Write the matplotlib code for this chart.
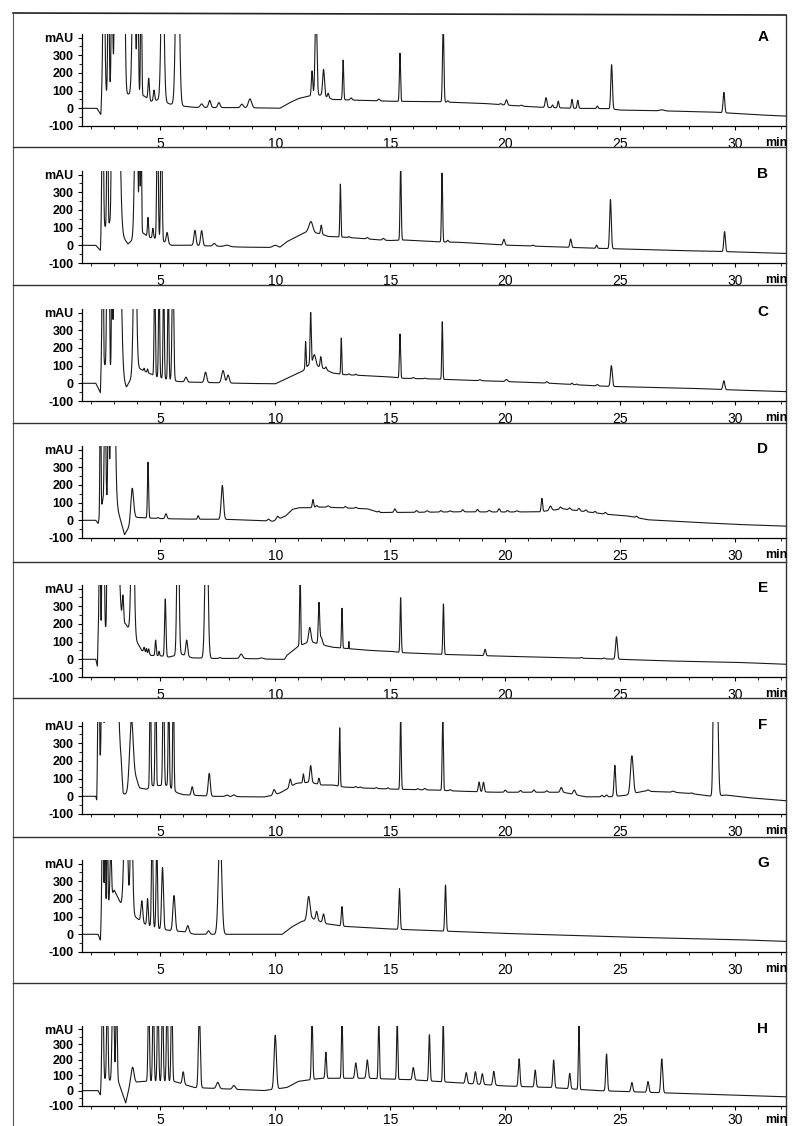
import numpy as np
import matplotlib
matplotlib.use("Agg")
import matplotlib.pyplot as plt
from matplotlib.lines import Line2D
from matplotlib.ticker import MultipleLocator, FixedLocator

plt.rcParams['font.family'] = ['Liberation Sans', 'DejaVu Sans']

# panel letters and x ticks
panel_names = ['A', 'B', 'C', 'D', 'E', 'F', 'G', 'H']
x_ticks = [5, 10, 15, 20, 25, 30]
y_ticks = [-100, 0, 100, 200, 300, 400]
y_labels = ['-100', '0', '100', '200', '300', 'mAU']

# baseline knots (min, mAU) and peaks (retention time, height above baseline, width)
a_base_t = [1.6, 2.25, 2.42, 2.46, 3.0, 3.6, 4.3, 4.6, 5.0, 5.4, 6.0, 6.5, 9.0, 10.2, 10.6, 11.0, 11.5, 12.0, 12.5, 15.0, 17.0, 19.0, 20.5, 21.5, 23.0, 24.5, 25.0, 27.0, 29.0, 31.0, 32.2]
a_base_y = [0, 0, -38, 60, 100, 80, 70, 40, 50, 25, 12, 5, 3, 0, 30, 55, 70, 75, 50, 40, 37, 28, 14, 6, 0, -2, -10, -15, -21, -37, -44]
a_peaks = [(2.55, 900, 0.04), (2.75, 700, 0.03), (2.9, 700, 0.03), (3.05, 900, 0.03), (3.2, 2000, 0.1),
           (3.4, 1500, 0.05), (3.85, 900, 0.06), (4.02, 700, 0.03), (4.17, 700, 0.025), (4.5, 120, 0.03),
           (4.73, 60, 0.03), (5.1, 900, 0.06), (5.75, 1200, 0.07), (6.8, 20, 0.06), (7.15, 40, 0.05),
           (7.55, 28, 0.05), (8.55, 20, 0.06), (8.9, 50, 0.07), (11.6, 140, 0.03), (11.77, 500, 0.04),
           (12.1, 150, 0.04), (12.3, 25, 0.03), (12.95, 225, 0.025), (13.3, 12, 0.04), (14.5, 10, 0.04),
           (15.42, 272, 0.025), (17.3, 450, 0.03), (17.5, 8, 0.03), (19.8, 6, 0.04), (20.05, 30, 0.04),
           (20.7, 5, 0.05), (21.77, 55, 0.04), (22.05, 15, 0.03), (22.3, 38, 0.03), (22.9, 50, 0.03),
           (23.15, 46, 0.03), (24.0, 14, 0.03), (24.62, 250, 0.035), (26.8, 6, 0.1), (29.5, 115, 0.035)]

b_base_t = [1.6, 2.2, 2.4, 2.44, 2.8, 3.3, 3.6, 4.2, 4.5, 4.9, 5.5, 6.4, 8.5, 9.5, 10.2, 10.5, 10.85, 11.1, 11.4, 12.0, 12.3, 13.0, 14.5, 15.0, 15.6, 17.0, 18.0, 20.0, 22.0, 24.0, 25.5, 28.0, 30.0, 32.2]
b_base_y = [0, 0, -30, 100, 110, 60, 8, 75, 45, 37, 0, 0, -10, -12, -12, 20, 44, 60, 78, 64, 50, 46, 31, 27, 30, 20, 17, 1, -8, -17, -22, -31, -37, -46]
b_peaks = [(2.5, 900, 0.03), (2.7, 800, 0.025), (2.9, 800, 0.025), (3.1, 2000, 0.1), (3.95, 900, 0.06),
           (4.1, 600, 0.02), (4.17, 600, 0.02), (4.47, 110, 0.025), (4.68, 55, 0.025), (4.88, 800, 0.03),
           (5.05, 800, 0.03), (5.3, 60, 0.04), (6.51, 85, 0.045), (6.8, 85, 0.045), (7.35, 15, 0.06),
           (7.9, 8, 0.1), (10.0, 12, 0.1), (11.55, 60, 0.08), (12.0, 50, 0.03), (12.83, 300, 0.022),
           (13.2, 5, 0.03), (14.0, 8, 0.04), (14.7, 10, 0.04), (15.45, 450, 0.025), (17.25, 390, 0.025),
           (17.5, 10, 0.03), (19.94, 32, 0.04), (21.2, 5, 0.05), (22.84, 47, 0.035), (23.97, 18, 0.03),
           (24.57, 278, 0.035), (29.53, 113, 0.035)]

c_base_t = [1.6, 2.2, 2.4, 2.44, 2.85, 3.3, 3.53, 4.0, 4.3, 4.85, 5.4, 5.8, 6.2, 8.5, 10.0, 10.35, 10.8, 11.2, 11.5, 12.0, 12.5, 13.0, 14.0, 15.0, 15.6, 17.0, 18.0, 20.0, 22.0, 24.0, 25.0, 28.0, 30.0, 32.2]
c_base_y = [0, 0, -53, 120, 75, 40, -22, 90, 70, 37, 20, 10, 7, 0, -3, 18, 46, 70, 110, 90, 58, 49, 43, 36, 28, 24, 19, 10, 0, -15, -19, -28, -38, -47]
c_peaks = [(2.5, 900, 0.025), (2.7, 800, 0.03), (2.78, 600, 0.02), (2.9, 600, 0.02), (3.15, 2000, 0.1),
           (3.9, 900, 0.06), (4.3, 15, 0.02), (4.45, 20, 0.02), (4.76, 600, 0.025), (4.95, 600, 0.025),
           (5.15, 600, 0.025), (5.35, 600, 0.025), (5.55, 700, 0.035), (6.12, 27, 0.05), (6.97, 58, 0.05),
           (7.73, 70, 0.06), (7.95, 45, 0.05), (11.32, 150, 0.02), (11.54, 290, 0.025), (11.7, 60, 0.06),
           (11.98, 60, 0.03), (12.2, 15, 0.03), (12.87, 205, 0.02), (13.2, 6, 0.03), (13.5, 6, 0.03),
           (15.42, 248, 0.025), (16.0, 6, 0.04), (16.5, 4, 0.04), (17.26, 325, 0.022), (18.9, 5, 0.05),
           (20.05, 12, 0.05), (21.8, 8, 0.04), (22.9, 8, 0.03), (23.1, 4, 0.03), (24.0, 8, 0.04),
           (24.61, 117, 0.04), (29.5, 50, 0.04)]

d_base_t = [1.6, 2.2, 2.3, 2.38, 2.5, 2.9, 3.15, 3.45, 3.9, 5.0, 6.0, 8.0, 9.9, 10.2, 10.46, 10.75, 11.03, 11.46, 12.0, 13.0, 14.0, 14.5, 16.0, 18.0, 20.0, 21.5, 22.5, 24.4, 25.3, 26.2, 28.0, 30.0, 32.2]
d_base_y = [0, 0, -18, 30, 110, 110, 60, -81, 17, 10, 7, 5, -5, 10, 26, 62, 71, 71, 75, 70, 65, 44, 45, 48, 47, 48, 65, 34, 25, 3, -10, -23, -33]
d_peaks = [(2.4, 900, 0.02), (2.6, 700, 0.03), (2.75, 700, 0.025), (2.95, 1500, 0.07), (3.78, 190, 0.06),
           (4.47, 316, 0.025), (4.9, 5, 0.03), (5.25, 28, 0.04), (6.65, 20, 0.03), (7.7, 192, 0.05),
           (9.71, 10, 0.05), (10.1, 18, 0.05), (11.64, 45, 0.03), (11.8, 10, 0.04), (12.3, 8, 0.05),
           (13.05, 8, 0.04), (13.5, 6, 0.04), (14.5, 8, 0.03), (15.2, 20, 0.04), (16.14, 10, 0.04),
           (16.6, 8, 0.05), (17.2, 8, 0.04), (17.6, 6, 0.05), (18.15, 12, 0.04), (18.79, 14, 0.04),
           (19.3, 8, 0.05), (19.73, 18, 0.04), (20.1, 8, 0.04), (20.5, 6, 0.05), (21.59, 75, 0.03),
           (21.96, 25, 0.05), (22.4, 12, 0.04), (22.8, 10, 0.04), (23.2, 14, 0.04), (23.5, 10, 0.04),
           (23.9, 8, 0.04), (24.35, 10, 0.04), (25.7, 8, 0.04)]

e_base_t = [1.6, 2.2, 2.27, 2.3, 2.6, 3.3, 3.5, 4.05, 4.2, 4.6, 5.0, 5.4, 5.9, 6.4, 7.3, 8.5, 10.0, 10.4, 10.5, 10.8, 11.0, 11.5, 12.2, 12.5, 13.2, 14.0, 15.0, 15.6, 17.0, 18.0, 20.0, 22.0, 25.0, 27.0, 30.0, 32.2]
e_base_y = [0, 0, -40, 150, 160, 200, 200, 84, 50, 22, 20, 13, 30, 8, 5, 5, 0, 0, 22, 52, 74, 100, 77, 68, 60, 51, 45, 37, 29, 25, 17, 11, 0, -9, -17, -28]
e_peaks = [(2.37, 700, 0.025), (2.48, 600, 0.02), (2.55, 700, 0.025), (2.7, 700, 0.02), (2.78, 700, 0.02),
           (3.0, 2000, 0.12), (3.38, 150, 0.03), (3.8, 900, 0.06), (4.3, 25, 0.025), (4.4, 25, 0.02),
           (4.5, 30, 0.025), (4.8, 88, 0.025), (4.95, 25, 0.02), (5.22, 325, 0.03), (5.77, 900, 0.045),
           (6.15, 90, 0.04), (7.01, 900, 0.06), (7.6, 5, 0.04), (8.52, 25, 0.06), (9.4, 6, 0.08),
           (11.08, 430, 0.022), (11.5, 80, 0.05), (11.9, 230, 0.03), (12.0, 40, 0.05), (12.9, 225, 0.022),
           (13.2, 40, 0.01), (15.45, 310, 0.025), (17.31, 286, 0.025), (19.12, 36, 0.035), (23.3, 4, 0.04),
           (24.3, 5, 0.04), (24.83, 127, 0.04)]

f_base_t = [1.6, 2.2, 2.24, 2.28, 2.6, 3.3, 3.39, 4.2, 4.4, 4.66, 5.3, 5.75, 6.0, 7.3, 9.5, 9.88, 10.2, 10.5, 10.9, 11.5, 12.0, 12.5, 13.0, 14.0, 15.0, 15.6, 17.0, 18.0, 19.5, 22.5, 23.5, 24.5, 25.2, 26.0, 27.3, 28.1, 29.0, 29.6, 30.5, 32.2]
f_base_y = [0, 0, -25, 200, 200, 150, 7, 45, 40, 60, 62, 19, 9, 0, -4, 5, 19, 40, 73, 80, 64, 64, 52, 46, 41, 39, 35, 29, 23, 23, -3, -3, 5, 29, 23, 15, 0, 7, -7, -25]
f_peaks = [(2.32, 800, 0.025), (2.48, 900, 0.03), (2.9, 2500, 0.15), (3.75, 410, 0.08), (3.95, 60, 0.08),
           (4.57, 700, 0.025), (4.8, 700, 0.025), (5.14, 700, 0.03), (5.37, 600, 0.025), (5.57, 700, 0.025),
           (6.39, 48, 0.04), (7.13, 128, 0.045), (7.9, 8, 0.06), (8.2, 10, 0.06), (9.95, 30, 0.05),
           (10.65, 45, 0.04), (11.22, 50, 0.025), (11.54, 95, 0.04), (11.9, 35, 0.03), (12.8, 330, 0.022),
           (13.5, 6, 0.04), (13.7, 5, 0.04), (14.4, 5, 0.04), (14.9, 6, 0.04), (15.45, 430, 0.025),
           (16.2, 6, 0.04), (16.5, 8, 0.04), (17.28, 430, 0.025), (17.6, 6, 0.04), (18.86, 55, 0.035),
           (19.05, 55, 0.035), (20.0, 12, 0.04), (20.66, 10, 0.04), (21.24, 13, 0.04), (21.8, 8, 0.04),
           (22.43, 27, 0.045), (23.0, 25, 0.05), (24.2, 8, 0.04), (24.4, 10, 0.04), (24.76, 175, 0.035),
           (25.5, 215, 0.06), (26.2, 8, 0.06), (27.3, 6, 0.06), (28.1, 4, 0.05), (29.07, 800, 0.04),
           (29.2, 700, 0.05)]

g_base_t = [1.6, 2.3, 2.4, 2.45, 3.0, 3.3, 3.9, 4.3, 4.7, 5.0, 5.5, 6.0, 6.5, 7.0, 9.0, 10.3, 10.7, 11.1, 11.6, 12.2, 13.0, 15.0, 17.0, 20.0, 25.0, 30.0, 32.2]
g_base_y = [0, 0, -35, 100, 250, 170, 100, 60, 40, 30, 20, 15, 0, 0, 0, 0, 40, 70, 90, 60, 45, 30, 20, 5, -15, -30, -40]
g_peaks = [(2.5, 700, 0.03), (2.6, 500, 0.02), (2.7, 600, 0.02), (2.85, 300, 0.03), (3.5, 700, 0.07),
           (3.75, 600, 0.05), (4.2, 120, 0.04), (4.45, 150, 0.03), (4.65, 600, 0.03), (4.85, 500, 0.03),
           (5.1, 350, 0.04), (5.6, 200, 0.05), (6.2, 40, 0.05), (7.1, 20, 0.05), (7.6, 600, 0.07),
           (11.45, 130, 0.06), (11.8, 50, 0.04), (12.1, 50, 0.04), (12.9, 110, 0.03), (15.4, 230, 0.03),
           (17.4, 260, 0.03)]

h_base_t = [1.6, 2.3, 2.4, 2.45, 3.2, 3.5, 3.7, 4.2, 5.6, 6.5, 8.0, 9.5, 10.5, 11.0, 12.0, 14.0, 16.0, 18.0, 20.0, 22.0, 24.0, 26.0, 28.0, 30.0, 32.2]
h_base_y = [0, 0, -30, 80, 50, -80, 50, 60, 60, 20, 10, 0, 20, 60, 80, 80, 70, 50, 30, 20, 0, -10, -20, -30, -40]
h_peaks = [(2.5, 700, 0.03), (2.7, 600, 0.03), (2.95, 700, 0.04), (3.1, 600, 0.03), (3.8, 100, 0.06),
           (4.5, 600, 0.03), (4.7, 600, 0.03), (4.9, 600, 0.03), (5.1, 600, 0.03), (5.3, 600, 0.03),
           (5.5, 600, 0.03), (6.0, 80, 0.04), (6.7, 500, 0.04), (7.5, 40, 0.06), (8.2, 25, 0.06),
           (10.0, 350, 0.05), (11.6, 400, 0.03), (12.2, 170, 0.03), (12.9, 400, 0.025), (13.5, 100, 0.04),
           (14.0, 120, 0.04), (14.5, 400, 0.025), (15.3, 400, 0.025), (16.0, 80, 0.04), (16.7, 300, 0.03),
           (17.3, 400, 0.025), (18.3, 70, 0.04), (18.7, 80, 0.04), (19.0, 70, 0.04), (19.5, 90, 0.04),
           (20.6, 180, 0.035), (21.3, 110, 0.035), (22.1, 180, 0.035), (22.8, 100, 0.035), (23.2, 420, 0.025),
           (24.4, 240, 0.035), (25.5, 60, 0.04), (26.2, 70, 0.04), (26.8, 220, 0.04)]

base_t = [a_base_t, b_base_t, c_base_t, d_base_t, e_base_t, f_base_t, g_base_t, h_base_t]
base_y = [a_base_y, b_base_y, c_base_y, d_base_y, e_base_y, f_base_y, g_base_y, h_base_y]
peaks = [a_peaks, b_peaks, c_peaks, d_peaks, e_peaks, f_peaks, g_peaks, h_peaks]

# pixel layout of the scanned page (last panel is squashed a little in the scan)
W, H = 796, 1126
ax_left, ax_right = 82, 786
ax_bottoms = [126, 263, 401, 538, 677, 814, 952, 1106]
ax_heights = [92, 92, 92, 92, 92, 92, 92, 80]
seps = [147, 285, 423, 562, 698, 837, 983]

fig = plt.figure(figsize=(W / 100, H / 100), dpi=100)
fig.patch.set_facecolor('white')

t = np.arange(1.6, 32.2, 0.004)

for i, name in enumerate(panel_names):
    bot = ax_bottoms[i]
    ax = fig.add_axes([ax_left / W, 1 - bot / H, (ax_right - ax_left) / W, ax_heights[i] / H])
    y = np.interp(t, base_t[i], base_y[i])
    for pt, ph, pw in peaks[i]:
        y = y + ph * np.exp(-0.5 * ((t - pt) / pw) ** 2)
    ax.plot(t, y, color='#1a1a1a', lw=0.8)
    ax.set_xlim(1.6, 32.2)
    ax.set_ylim(-100, 420)
    ax.spines['top'].set_visible(False)
    ax.spines['right'].set_visible(False)
    ax.spines['left'].set_linewidth(0.9)
    ax.spines['bottom'].set_linewidth(0.9)
    ax.xaxis.set_major_locator(FixedLocator(x_ticks))
    ax.xaxis.set_minor_locator(MultipleLocator(1))
    ax.yaxis.set_major_locator(FixedLocator(y_ticks))
    ax.yaxis.set_minor_locator(MultipleLocator(50))
    ax.set_yticklabels(y_labels, fontsize=9, fontweight='bold')
    ax.set_xticklabels([str(v) for v in x_ticks], fontsize=10)
    ax.tick_params(axis='both', which='major', direction='out', length=3, width=0.8)
    ax.tick_params(axis='both', which='minor', direction='out', length=2, width=0.6)
    last = i == len(panel_names) - 1
    ax.tick_params(axis='x', pad=2 if last else 5)
    ax.tick_params(axis='y', pad=3)
    ax.patch.set_alpha(0)
    # "min" unit and panel letter
    off = 14 if last else 17
    fig.text(776 / W, 1 - (bot + off) / H, 'min', fontsize=9, fontweight='bold', ha='center', va='center')
    fig.text(763 / W, 1 - (bot - ax_heights[i] + 3) / H, name, fontsize=11, fontweight='bold',
             ha='center', va='center')

# page frame and separators
fig.add_artist(Line2D([13 / W, 786 / W], [1 - 13 / H, 1 - 15 / H], color='#222222', lw=1.2))
fig.add_artist(Line2D([13 / W, 13 / W], [1 - 13 / H, 0], color='#555555', lw=0.8))
fig.add_artist(Line2D([786 / W, 786 / W], [1 - 15 / H, 0], color='#333333', lw=1.0))
for s in seps:
    fig.add_artist(Line2D([13 / W, 786 / W], [1 - s / H, 1 - s / H], color='#333333', lw=1.0))

fig.savefig('out.png', dpi=100)
